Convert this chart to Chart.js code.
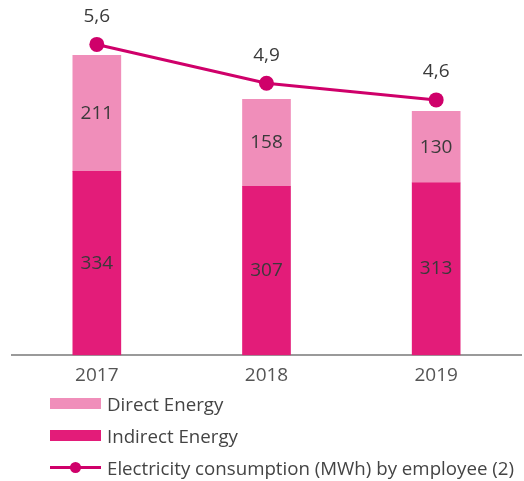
<!DOCTYPE html>
<html><head><meta charset="utf-8">
<script src="https://cdn.jsdelivr.net/npm/chart.js@4.4.1/dist/chart.umd.min.js"></script>
<style>
html,body{margin:0;padding:0;background:#fff;}
#wrap{position:relative;width:524px;height:481px;font-family:"Open Sans",sans-serif;}
#c{position:absolute;left:0;top:0;}
.lg{position:absolute;left:50px;height:20px;display:flex;align-items:center;font-size:18.7px;color:#444;white-space:nowrap;}
.sw{width:51px;height:11px;margin-right:6px;position:relative;flex:none;}
</style></head>
<body><div id="wrap"><canvas id="c" width="524" height="481"></canvas>
<div id="legend"></div></div>
<script>
const categories = ["2017", "2018", "2019"];
const indirectEnergy = [334, 307, 313];
const directEnergy = [211, 158, 130];
const perEmployee = [5.6, 4.9, 4.6];
const perEmployeeLabels = ["5,6", "4,9", "4,6"];
const seriesNames = ["Direct Energy", "Indirect Energy", "Electricity consumption (MWh) by employee (2)"];
const colors = {direct: "#F08EBA", indirect: "#E31C79", line: "#CF006A"};

const labelPlugin = {
  id: 'vals',
  afterDatasetsDraw(chart) {
    const ctx = chart.ctx;
    ctx.save();
    ctx.fillStyle = '#3a3a3a';
    ctx.textAlign = 'center';
    ctx.textBaseline = 'middle';
    ctx.font = '19px "Open Sans", sans-serif';
    chart.data.datasets.forEach((ds, di) => {
      const meta = chart.getDatasetMeta(di);
      meta.data.forEach((el, i) => {
        if (ds.type === 'line') {
          ctx.fillText(perEmployeeLabels[i], el.x, el.y - 28);
        } else {
          const p = el.getProps(['x','y','base'], true);
          ctx.fillText(String(ds.data[i]), p.x, (p.y + p.base) / 2);
        }
      });
    });
    ctx.restore();
  }
};

new Chart(document.getElementById('c'), {
  data: {
    labels: categories,
    datasets: [
      {type: 'line', label: seriesNames[2], data: perEmployee, yAxisID: 'y2', borderColor: colors.line, backgroundColor: colors.line, borderWidth: 3, pointRadius: 7.5, pointHoverRadius: 7.5, pointBackgroundColor: colors.line, pointBorderWidth: 0, order: 0},
      {type: 'bar', label: seriesNames[1], data: indirectEnergy, backgroundColor: colors.indirect, stack: 's', barThickness: 48, order: 1},
      {type: 'bar', label: seriesNames[0], data: directEnergy, backgroundColor: colors.direct, stack: 's', barThickness: 48, order: 2}
    ]
  },
  options: {
    responsive: false, animation: false,
    layout: {autoPadding: false, padding: {left: 12, right: 3, top: 25, bottom: 93}},
    plugins: {legend: {display: false}, tooltip: {enabled: false}},
    scales: {
      x: {stacked: true, grid: {display: false}, border: {display: true, color: '#9a9a9a', width: 2},
          ticks: {color: '#555', font: {size: 19, family: '"Open Sans", sans-serif'}, padding: 1}},
      y: {stacked: true, display: false, min: 0, max: 600},
      y2: {display: false, min: 0, max: 5.95}
    }
  },
  plugins: [labelPlugin]
});

// HTML legend
const lg = document.getElementById('legend');
const items = [
  {name: seriesNames[0], kind: 'box', color: colors.direct, top: 393},
  {name: seriesNames[1], kind: 'box', color: colors.indirect, top: 425},
  {name: seriesNames[2], kind: 'line', color: colors.line, top: 457}
];
items.forEach(it => {
  const d = document.createElement('div');
  d.className = 'lg'; d.style.top = it.top + 'px';
  const sw = document.createElement('div'); sw.className = 'sw';
  if (it.kind === 'box') { sw.style.background = it.color; }
  else {
    sw.innerHTML = '<div style="position:absolute;left:0;top:4px;width:51px;height:3px;background:' + it.color + '"></div>' +
      '<div style="position:absolute;left:20px;top:0;width:11px;height:11px;border-radius:50%;background:' + it.color + '"></div>';
  }
  const t = document.createElement('span'); t.textContent = it.name;
  d.appendChild(sw); d.appendChild(t); lg.appendChild(d);
});
</script></body></html>
